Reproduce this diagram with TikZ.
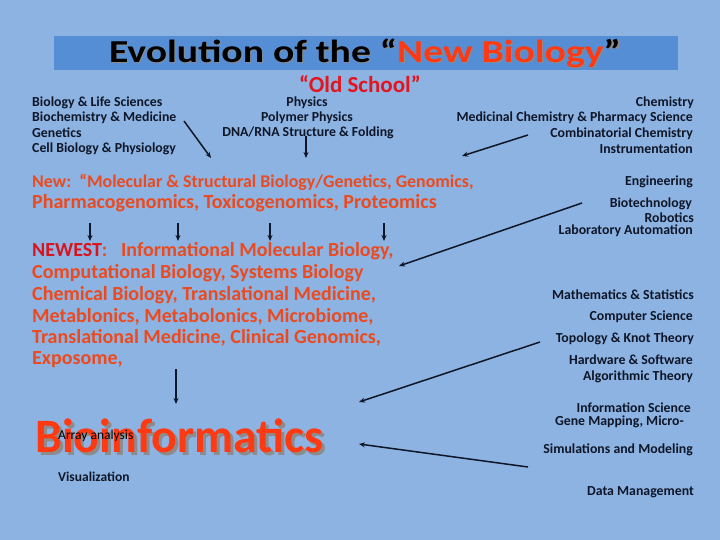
\documentclass[tikz,border=0pt]{standalone}
\usepackage{fontspec}
\setmainfont{Carlito}
\usetikzlibrary{arrows.meta}
\definecolor{bg}{HTML}{8DB3E2}
\definecolor{bar}{HTML}{558ED5}
\definecolor{newred}{HTML}{FF3A12}
\definecolor{oldred}{HTML}{E3161F}
\definecolor{neworange}{HTML}{EC4A1E}
\definecolor{newestred}{HTML}{D8141E}
\definecolor{ink}{HTML}{0E1628}
\tikzset{
  small/.style={font=\fontsize{13.8}{15}\selectfont\bfseries, text=ink, inner sep=0pt},
  lt/.style={small, anchor=west},
  rt/.style={small, anchor=east},
  ct/.style={small, anchor=center},
  orangeline/.style={font=\fontsize{20}{22}\selectfont\bfseries, text=neworange, inner sep=0pt, anchor=west},
  arr/.style={-{Stealth[length=6pt,width=5pt]}, line width=1.5pt, draw=ink},
}
\begin{document}
\begin{tikzpicture}[x=1pt,y=-1pt]
\useasboundingbox (0,0) rectangle (720,540);
\fill[bg] (0,0) rectangle (720,540);
\fill[bar] (54,36) rectangle (678,70);
% title
\node[inner sep=0pt, text=black!45, font=\fontsize{32}{34}\selectfont\bfseries] at (366.5,54.5) {\scalebox{1.24}[1]{Evolution of the “New Biology”}};
\node[inner sep=0pt, font=\fontsize{32}{34}\selectfont\bfseries] (title) at (365,53) {\scalebox{1.24}[1]{Evolution of the “\textcolor{newred}{New Biology}”}};
\node[inner sep=0pt, text=oldred, font=\fontsize{23}{25}\selectfont\bfseries] (old) at (360,84) {“Old School”};
% left column
\node[lt] (l1) at (32,103) {Biology \& Life Sciences};
\node[lt] (l2) at (32,118) {Biochemistry \& Medicine};
\node[lt] (l3) at (32,133) {Genetics};
\node[lt] (l4) at (32,149) {Cell Biology \& Physiology};
% middle column
\node[ct] (m1) at (307,103) {Physics};
\node[ct] (m2) at (307,118) {Polymer Physics};
\node[ct] (m3) at (308,133) {DNA/RNA Structure \& Folding};
% right top
\node[rt] (r1) at (694,103) {Chemistry};
\node[rt] (r2) at (693,118) {Medicinal Chemistry \& Pharmacy Science};
\node[rt] (r3) at (693,134) {Combinatorial Chemistry};
\node[rt] (r4) at (693,149) {Instrumentation};
% New
\node[orangeline, font=\fontsize{17.9}{19}\selectfont\bfseries] (new1) at (32,182) {New:\ \ “Molecular \& Structural Biology/Genetics, Genomics,};
\node[orangeline, font=\fontsize{20}{22}\selectfont\bfseries] (new2) at (32,203) {Pharmacogenomics, Toxicogenomics, Proteomics};
% Newest
\node[orangeline] (n1) at (32,251) {\textcolor{newestred}{NEWEST}:\ \ \ Informational Molecular Biology,};
\node[orangeline] (n2) at (32,273) {Computational Biology, Systems Biology};
\node[orangeline] (n3) at (32,295) {Chemical Biology, Translational Medicine,};
\node[orangeline] (n4) at (32,317) {Metablonics, Metabolonics, Microbiome,};
\node[orangeline] (n5) at (32,338) {Translational Medicine, Clinical Genomics,};
\node[orangeline] (n6) at (32,360) {Exposome,};
% Bioinformatics
\node[inner sep=0pt, anchor=west, text=black!45, font=\fontsize{48}{50}\selectfont\bfseries] at (38,439) {Bioinformatics};
\node[inner sep=0pt, anchor=west, text=newred, font=\fontsize{48}{50}\selectfont\bfseries] (bio) at (35,436) {Bioinformatics};
\node[inner sep=0pt, anchor=west, text=black, font=\fontsize{13.5}{14}\selectfont] (arr) at (58,436) {Array analysis};
\node[lt, font=\fontsize{13.5}{14}\selectfont\bfseries] (vis) at (58,477) {Visualization};
% right column
\node[rt] (e1) at (693,182) {Engineering};
\node[rt] (e2) at (692,204) {Biotechnology};
\node[rt] (e3) at (694,218) {Robotics};
\node[rt] (e4) at (693,231) {Laboratory Automation};
\node[rt] (c1) at (694,295) {Mathematics \& Statistics};
\node[rt] (c2) at (693,317) {Computer Science};
\node[rt] (c3) at (694,339) {Topology \& Knot Theory};
\node[rt] (c4) at (693,360) {Hardware \& Software};
\node[rt] (c5) at (693,377) {Algorithmic Theory};
\node[rt] (i1) at (691,408) {Information Science};
\node[rt] (i2) at (684,422) {Gene Mapping, Micro-};
\node[rt] (i3) at (693,450) {Simulations and Modeling};
\node[rt] (i4) at (694,492) {Data Management};
% connector endpoints
\coordinate (a1s) at (184,121); \coordinate (a1e) at (211,158);
\coordinate (a2s) at (306,136); \coordinate (a2e) at (306,158);
\coordinate (a3s) at (528,135); \coordinate (a3e) at (462,156);
\coordinate (d1s) at (90,223); \coordinate (d1e) at (90,241);
\coordinate (d2s) at (178,223); \coordinate (d2e) at (178,241);
\coordinate (d3s) at (270,223); \coordinate (d3e) at (270,241);
\coordinate (d4s) at (384,223); \coordinate (d4e) at (384,241);
\coordinate (b1s) at (582,203); \coordinate (b1e) at (399,266);
\coordinate (x1s) at (176,369); \coordinate (x1e) at (176,404);
\coordinate (b2s) at (540,342); \coordinate (b2e) at (359,402);
\coordinate (b3s) at (528,467); \coordinate (b3e) at (359,444);
\foreach \s/\e in {a1s/a1e,a2s/a2e,a3s/a3e,d1s/d1e,d2s/d2e,d3s/d3e,d4s/d4e,b1s/b1e,x1s/x1e,b2s/b2e,b3s/b3e}
  \draw[arr] (\s) -- (\e);
\end{tikzpicture}
\end{document}
